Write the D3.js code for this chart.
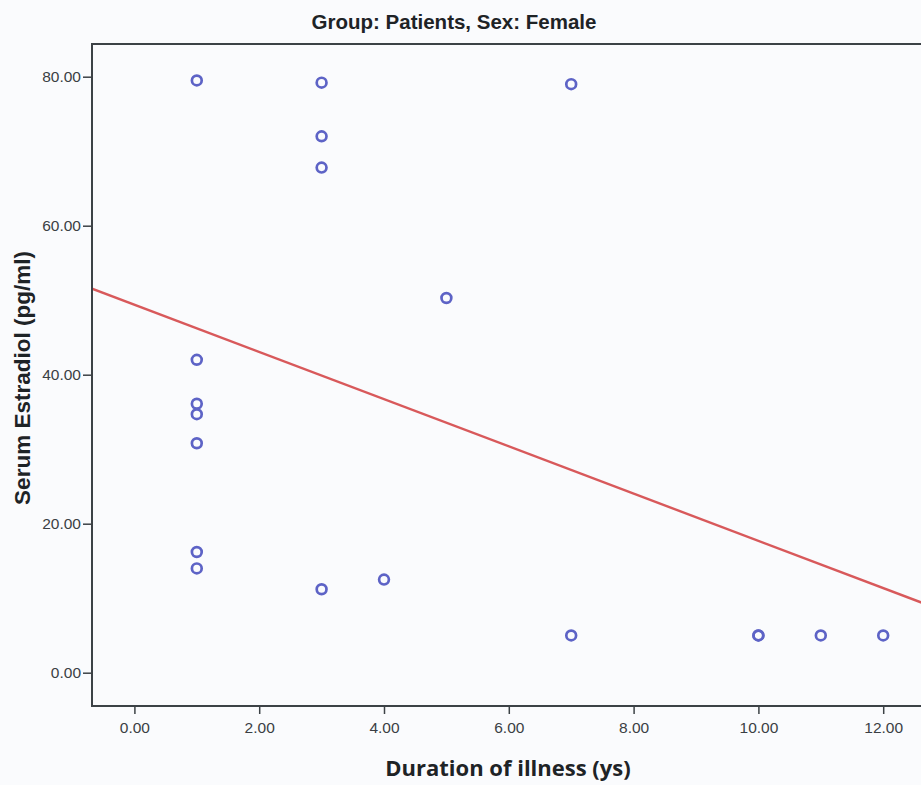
<!DOCTYPE html>
<html lang="en">
<head>
    <meta charset="utf-8" />
    <title> Serum Estradiol vs Duration of illness </title>
    <script src="https://cdn.jsdelivr.net/npm/d3@7"></script>
    <style>
        body { margin: 0px; background: #fafbfd; }
        svg { display: block; }
    </style>
</head>
<body>

<div id="chart"></div>

<script>

    // data
    var duration = [1, 3, 3, 3, 7, 5, 1, 1, 1, 1, 1, 1, 3, 4, 7, 10, 10, 11, 12];
    var estradiol = [79.5, 79.2, 72.0, 67.8, 79.0, 50.3, 42.0, 36.1, 34.7, 30.8, 16.2, 14.0, 11.2, 12.5, 5.0, 5.0, 5.0, 5.0, 5.0];

    var xTicks = [0, 2, 4, 6, 8, 10, 12];
    var yTicks = [0, 20, 40, 60, 80];

    // fit line (intercept, slope) as drawn
    var fitLine = [49.4, -3.17];

    var titleText = 'Group: Patients, Sex: Female';
    var xTitle = 'Duration of illness (ys)';
    var yTitle = 'Serum Estradiol (pg/ml)';

    function main() {

        var width = 921, height = 785;
        var left = 92, top = 44, bottom = 706, right = 921;

        var svg = d3.select('#chart').append('svg')
                .attr('width', width)
                .attr('height', height);

        var x = d3.scaleLinear().domain([0, 12]).range([134.4, 883.2]);
        var y = d3.scaleLinear().domain([0, 80]).range([672.7, 76.7]);

        var xMin = x.invert(left), xMax = x.invert(right + 2);

        svg.append('rect')
                .attr('x', 0).attr('y', 0)
                .attr('width', width).attr('height', height)
                .style('fill', '#fafbfd');

        // clip for plot area
        svg.append('clipPath').attr('id', 'plot-clip')
                .append('rect')
                .attr('x', left).attr('y', top)
                .attr('width', right - left).attr('height', bottom - top);

        var plot = svg.append('g').attr('clip-path', 'url(#plot-clip)');

        // regression line
        plot.append('line')
                .attr('x1', x(xMin))
                .attr('y1', y(fitLine[0] + fitLine[1] * xMin))
                .attr('x2', x(xMax))
                .attr('y2', y(fitLine[0] + fitLine[1] * xMax))
                .style('stroke', '#d8595b')
                .style('stroke-width', 2.4);

        // points
        plot.selectAll('circle.pt')
                .data(duration)
                .enter()
                .append('circle')
                .attr('class', 'pt')
                .attr('cx', function(d) { return x(d); })
                .attr('cy', function(d, i) { return y(estradiol[i]); })
                .attr('r', 4.9)
                .style('fill', 'none')
                .style('stroke', '#5d63c6')
                .style('stroke-width', 2.7);

        // axes
        var xAxis = d3.axisBottom(x)
                .tickValues(xTicks)
                .tickSize(8)
                .tickSizeOuter(0)
                .tickFormat(d3.format('.2f'));

        var yAxis = d3.axisLeft(y)
                .tickValues(yTicks)
                .tickSize(9)
                .tickSizeOuter(0)
                .tickFormat(d3.format('.2f'));

        var gx = svg.append('g')
                .attr('transform', 'translate(0,' + bottom + ')')
                .call(xAxis);
        gx.select('.domain').remove();

        var gy = svg.append('g')
                .attr('transform', 'translate(' + left + ',0)')
                .call(yAxis);
        gy.select('.domain').remove();

        [gx, gy].forEach(function(g) {
            g.selectAll('line').style('stroke', '#3c4246').style('stroke-width', 1.5);
            g.selectAll('text')
                    .style('font-family', 'Liberation Sans, Arial, sans-serif')
                    .style('font-size', '15.5px')
                    .style('fill', '#3a3f44');
        });
        gx.selectAll('text').attr('dy', '1.05em');
        gy.selectAll('text').attr('x', -11);

        // frame
        svg.append('path')
                .attr('d', 'M' + (right + 2) + ',' + top + 'H' + left + 'V' + bottom + 'H' + (right + 2))
                .style('fill', 'none')
                .style('stroke', '#3c4246')
                .style('stroke-width', 2);

        // titles
        svg.append('text')
                .attr('x', 454)
                .attr('y', 29)
                .attr('text-anchor', 'middle')
                .style('font-family', 'Liberation Sans, Arial, sans-serif')
                .style('font-weight', 'bold')
                .style('font-size', '20.5px')
                .style('fill', '#1e2326')
                .text(titleText);

        svg.append('text')
                .attr('x', 508)
                .attr('y', 776)
                .attr('text-anchor', 'middle')
                .style('font-family', 'Open Sans, DejaVu Sans, sans-serif')
                .style('font-weight', 'bold')
                .style('font-size', '22px')
                .style('fill', '#1e2326')
                .text(xTitle);

        svg.append('text')
                .attr('transform', 'translate(30,' + 378 + ') rotate(-90)')
                .attr('text-anchor', 'middle')
                .style('font-family', 'Liberation Sans, Arial, sans-serif')
                .style('font-weight', 'bold')
                .style('font-size', '22.5px')
                .style('fill', '#1e2326')
                .text(yTitle);
    }

    main();

</script>

</body>
</html>
